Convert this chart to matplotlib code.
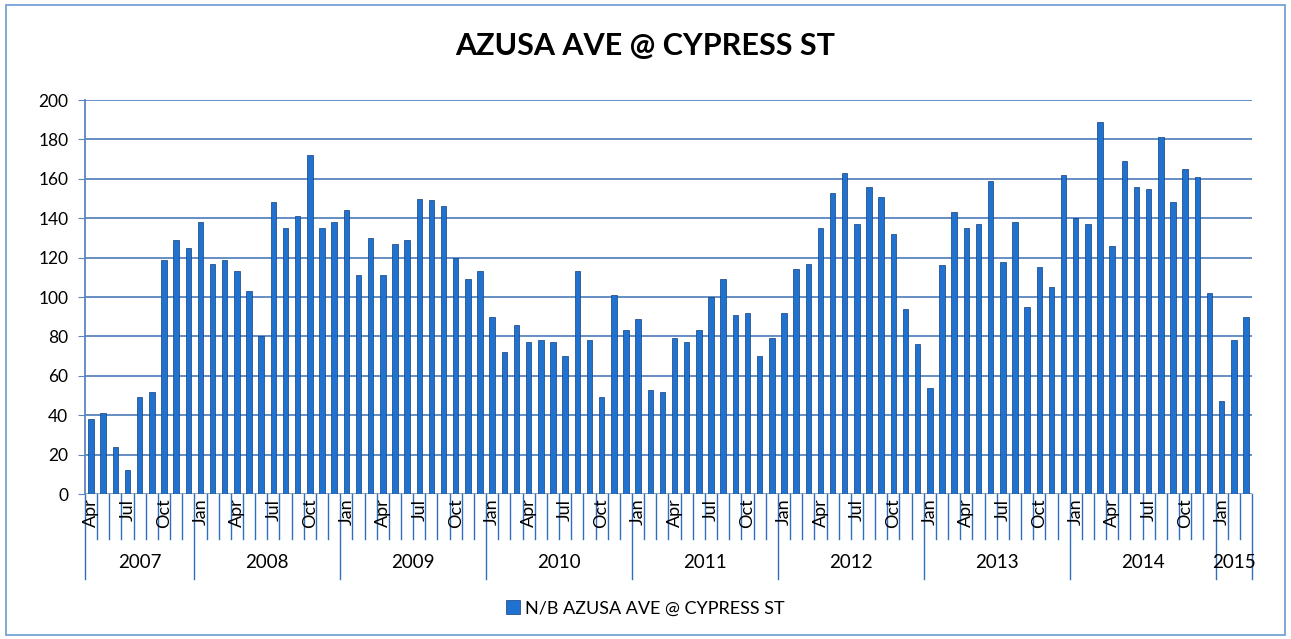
import matplotlib.pyplot as plt
from matplotlib.patches import Rectangle
import numpy as np

plt.rcParams['font.family'] = ['Lato', 'DejaVu Sans']

# monthly counts, Apr 2007 .. Mar 2015
years = ['2007', '2008', '2009', '2010', '2011', '2012', '2013', '2014', '2015']
months_per_year = [9, 12, 12, 12, 12, 12, 12, 12, 3]
month_names = ['Jan', 'Feb', 'Mar', 'Apr', 'May', 'Jun',
               'Jul', 'Aug', 'Sep', 'Oct', 'Nov', 'Dec']
counts = [
    38, 41, 24, 12, 49, 52, 119, 129, 125,                     # 2007
    138, 117, 119, 113, 103, 80, 148, 135, 141, 172, 135, 138,  # 2008
    144, 111, 130, 111, 127, 129, 150, 149, 146, 120, 109, 113, # 2009
    90, 72, 86, 77, 78, 77, 70, 113, 78, 49, 101, 83,           # 2010
    89, 53, 52, 79, 77, 83, 100, 109, 91, 92, 70, 79,           # 2011
    92, 114, 117, 135, 153, 163, 137, 156, 151, 132, 94, 76,    # 2012
    54, 116, 143, 135, 137, 159, 118, 138, 95, 115, 105, 162,   # 2013
    140, 137, 189, 126, 169, 156, 155, 181, 148, 165, 161, 102, # 2014
    47, 78, 90,                                                 # 2015
]
series_name = 'N/B AZUSA AVE @ CYPRESS ST'
title = 'AZUSA AVE @ CYPRESS ST'

# month label for every slot (starts at April 2007)
labels = []
m = 3
for n in months_per_year:
    for k in range(n):
        labels.append(month_names[m % 12])
        m += 1

bar_col = '#1f72cf'
grid_col = '#5a86c0'

fig = plt.figure(figsize=(12.91, 6.39), dpi=100)
ax = fig.add_axes([0.0658, 0.2269, 0.904, 0.6166])

x = np.arange(len(counts))
ax.bar(x, counts, width=0.45, color=bar_col, edgecolor='#123f7a', linewidth=0.5,
       zorder=3, label=series_name)

ax.set_xlim(-0.5, len(counts) - 0.5)
ax.set_ylim(0, 200)
ax.set_yticks(np.arange(0, 201, 20))
ax.tick_params(axis='y', labelsize=12.5, length=5, color=grid_col, pad=7)
ax.set_xticks([])
ax.yaxis.grid(True, color=grid_col, linewidth=1.3, zorder=0)
ax.axhline(0, color='#9aa6b4', linewidth=2.0, zorder=2)
for s in ['top', 'right', 'bottom']:
    ax.spines[s].set_visible(False)
ax.spines['left'].set_color(grid_col)
ax.spines['left'].set_linewidth(1.3)

# category axis: month separators, year separators, labels
trans = ax.get_xaxis_transform()
bounds = np.cumsum([0] + months_per_year)
for i in range(len(counts) + 1):
    edge = i - 0.5
    if i in bounds:
        y_end = -0.215
    else:
        y_end = -0.115
    ax.plot([edge, edge], [0, y_end], transform=trans, color='#2f6fc0',
            linewidth=1.0, clip_on=False)
for i, lab in enumerate(labels):
    if lab in ('Jan', 'Apr', 'Jul', 'Oct'):
        ax.text(i, -0.012, lab, transform=trans, rotation=90, ha='center',
                va='top', fontsize=13)
for j, yr in enumerate(years):
    mid = (bounds[j] + bounds[j + 1]) / 2 - 0.5
    ax.text(mid, -0.175, yr, transform=trans, ha='center', va='center',
            fontsize=13.5)

fig.text(0.5, 0.928, title, ha='center', va='center', fontsize=22,
         fontweight='bold')

fig.legend(loc='center', bbox_to_anchor=(0.5, 0.048), frameon=False,
           fontsize=13, handlelength=0.75, handleheight=0.75,
           handletextpad=0.3)

fig.patches.append(Rectangle((0.005, 0.006), 0.99, 0.986, transform=fig.transFigure,
                             fill=False, edgecolor='#6b9bd2', linewidth=1.2))

fig.savefig('out.png', dpi=100)
